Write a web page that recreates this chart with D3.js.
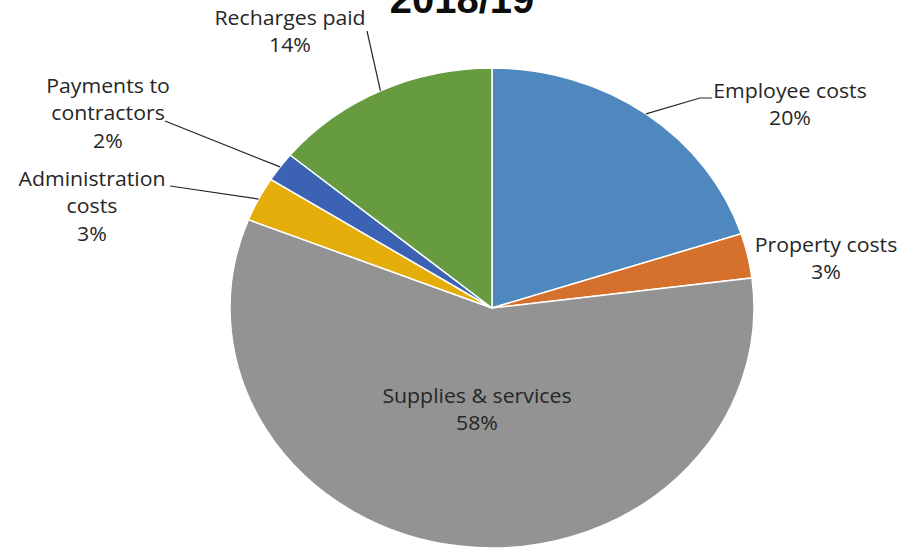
<!DOCTYPE html>
<html>
<head>
<meta charset="utf-8">
<script src="https://cdn.jsdelivr.net/npm/d3@7"></script>
<style>
  html, body { margin: 0; padding: 0; background: #fff; }
  svg { display: block; }
  text { font-family: "Open Sans", "Liberation Sans", sans-serif; fill: #262626; }
</style>
</head>
<body>
<svg id="chart" width="906" height="549"></svg>
<script>
// Spending breakdown for the year, in percent
const categories = ["Employee costs", "Property costs", "Supplies & services", "Administration costs", "Payments to contractors", "Recharges paid"];
const shares = [20, 3, 58, 3, 2, 14];
const colors = ["#4e88be", "#d5702d", "#939393", "#e5ad0a", "#3c62b3", "#669b40"];
const titleText = "2018/19";

// Label layout: text lines, centre x, first baseline, and where the leader line starts (null = no leader)
const labelLines = [
  ["Employee costs"], ["Property costs"], ["Supplies & services"],
  ["Administration", "costs"], ["Payments to", "contractors"], ["Recharges paid"]
];
const labelPos = [[790, 98], [826, 252], [477, 403], [92, 186], [108, 93], [290, 25]];
const leaderStart = [[712, 98, 700, 98], null, null, [170, 186, 170, 186], [165, 121, 165, 121], [367, 31, 367, 31]];

const svg = d3.select("#chart");
const cx = 492, cy = 308, r = 240, sx = 262 / 240;

svg.append("text")
  .attr("x", 462).attr("y", 13)
  .attr("text-anchor", "middle")
  .style("font-family", "'Liberation Sans', Arial, sans-serif")
  .style("font-weight", "bold").style("font-size", "40px").style("fill", "#0d0d0d")
  .text(titleText);

const pie = d3.pie().sort(null).value(d => d)(shares);
const arc = d3.arc().innerRadius(0).outerRadius(r);

const g = svg.append("g").attr("transform", `translate(${cx},${cy}) scale(${sx},1)`);
g.selectAll("path").data(pie).join("path")
  .attr("d", arc)
  .attr("fill", (d, i) => colors[i])
  .attr("stroke", "#fff")
  .attr("stroke-width", 1.5)
  .attr("vector-effect", "non-scaling-stroke");

// Leader lines run from the label to the slice edge at its middle angle
pie.forEach((d, i) => {
  const s = leaderStart[i];
  if (!s) return;
  const a = (d.startAngle + d.endAngle) / 2;
  const ex = cx + Math.sin(a) * r * sx, ey = cy - Math.cos(a) * r;
  svg.append("path")
    .attr("d", `M${s[0]},${s[1]}L${s[2]},${s[3]}L${ex},${ey}`)
    .attr("fill", "none").attr("stroke", "#262626").attr("stroke-width", 1.2);
});

// Category labels with their share, stretched a little like the pie
pie.forEach((d, i) => {
  const lines = labelLines[i].concat([shares[i] + "%"]);
  const t = svg.append("text")
    .attr("transform", `translate(${labelPos[i][0]},${labelPos[i][1]}) scale(${sx},1)`)
    .attr("text-anchor", "middle")
    .style("font-size", "19.5px");
  lines.forEach((ln, k) => {
    t.append("tspan").attr("x", 0).attr("y", k * 27.5).text(ln);
  });
});
</script>
</body>
</html>
